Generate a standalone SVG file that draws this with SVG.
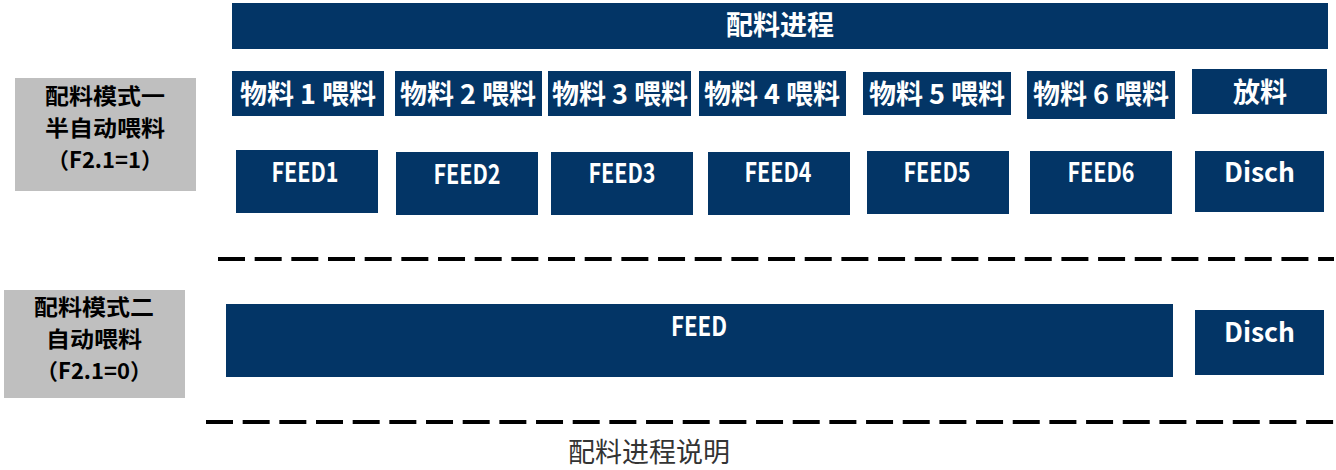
<svg xmlns="http://www.w3.org/2000/svg" width="1336" height="470" viewBox="0 0 1336 470">
<style>
.b{fill:#033566}
.g{fill:#bfbfbf}
.w{fill:#ffffff;font-family:"Noto Sans CJK SC","Liberation Sans",sans-serif;font-weight:bold;font-size:27px;text-anchor:middle}
.k{fill:#000000;font-family:"Noto Sans CJK SC","Liberation Sans",sans-serif;font-weight:bold;font-size:22px;text-anchor:middle}
.d{stroke:#000000;stroke-width:4;stroke-dasharray:27 9.67;fill:none}
.c{fill:#333333;font-family:"Noto Sans CJK SC",sans-serif;font-size:27px;text-anchor:middle}
</style>
<g id="title"><rect class="b" x="232" y="3" width="1096" height="46"/><text class="w" x="780" y="35">配料进程</text></g>
<g id="mode1"><rect class="g" x="15" y="78" width="181" height="113"/>
<text class="k" x="105" y="104" textLength="120" lengthAdjust="spacingAndGlyphs">配料模式一</text><text class="k" x="105" y="136" textLength="120" lengthAdjust="spacingAndGlyphs">半自动喂料</text><text class="k" x="105" y="168">（F2.1=1）</text></g>
<g id="p1"><rect class="b" x="232" y="71" width="152" height="45"/><text class="w" x="308" y="104">物料 1 喂料</text></g>
<g id="p2"><rect class="b" x="395" y="71" width="147" height="45"/><text class="w" x="468" y="104">物料 2 喂料</text></g>
<g id="p3"><rect class="b" x="548" y="71" width="143" height="45"/><text class="w" x="620" y="104">物料 3 喂料</text></g>
<g id="p4"><rect class="b" x="699" y="71" width="147" height="45"/><text class="w" x="772" y="104">物料 4 喂料</text></g>
<g id="p5"><rect class="b" x="863" y="72" width="148" height="43"/><text class="w" x="937" y="104">物料 5 喂料</text></g>
<g id="p6"><rect class="b" x="1027" y="71" width="148" height="48"/><text class="w" x="1101" y="104">物料 6 喂料</text></g>
<g id="p7"><rect class="b" x="1192" y="69" width="135" height="45"/><text class="w" x="1260" y="102">放料</text></g>
<g id="f1"><rect class="b" x="236" y="150" width="142" height="63"/><text class="w" x="305" y="182" textLength="67" lengthAdjust="spacingAndGlyphs">FEED1</text></g>
<g id="f2"><rect class="b" x="396" y="152" width="142" height="63"/><text class="w" x="467" y="184" textLength="67" lengthAdjust="spacingAndGlyphs">FEED2</text></g>
<g id="f3"><rect class="b" x="551" y="152" width="142" height="63"/><text class="w" x="622" y="183" textLength="67" lengthAdjust="spacingAndGlyphs">FEED3</text></g>
<g id="f4"><rect class="b" x="708" y="152" width="142" height="63"/><text class="w" x="778" y="182" textLength="67" lengthAdjust="spacingAndGlyphs">FEED4</text></g>
<g id="f5"><rect class="b" x="867" y="151" width="142" height="63"/><text class="w" x="937" y="182" textLength="67" lengthAdjust="spacingAndGlyphs">FEED5</text></g>
<g id="f6"><rect class="b" x="1030" y="151" width="142" height="63"/><text class="w" x="1101" y="182" textLength="67" lengthAdjust="spacingAndGlyphs">FEED6</text></g>
<g id="d1"><rect class="b" x="1195" y="151" width="129" height="61"/><text class="w" x="1259.5" y="182" textLength="71" lengthAdjust="spacingAndGlyphs">Disch</text></g>
<g id="separators"><line class="d" x1="218" y1="259" x2="1334" y2="259"/><line class="d" x1="206" y1="422" x2="1334" y2="422"/></g>
<g id="mode2"><rect class="g" x="4" y="290" width="181" height="108"/>
<text class="k" x="94" y="315" textLength="120" lengthAdjust="spacingAndGlyphs">配料模式二</text><text class="k" x="94" y="347" textLength="96" lengthAdjust="spacingAndGlyphs">自动喂料</text><text class="k" x="94" y="379">（F2.1=0）</text></g>
<g id="feed"><rect class="b" x="226" y="304" width="947" height="73"/><text class="w" x="699" y="336" textLength="56" lengthAdjust="spacingAndGlyphs">FEED</text></g>
<g id="d2"><rect class="b" x="1195" y="310" width="129" height="65"/><text class="w" x="1259.5" y="342" textLength="71" lengthAdjust="spacingAndGlyphs">Disch</text></g>
<text class="c" x="649" y="462">配料进程说明</text>
</svg>
